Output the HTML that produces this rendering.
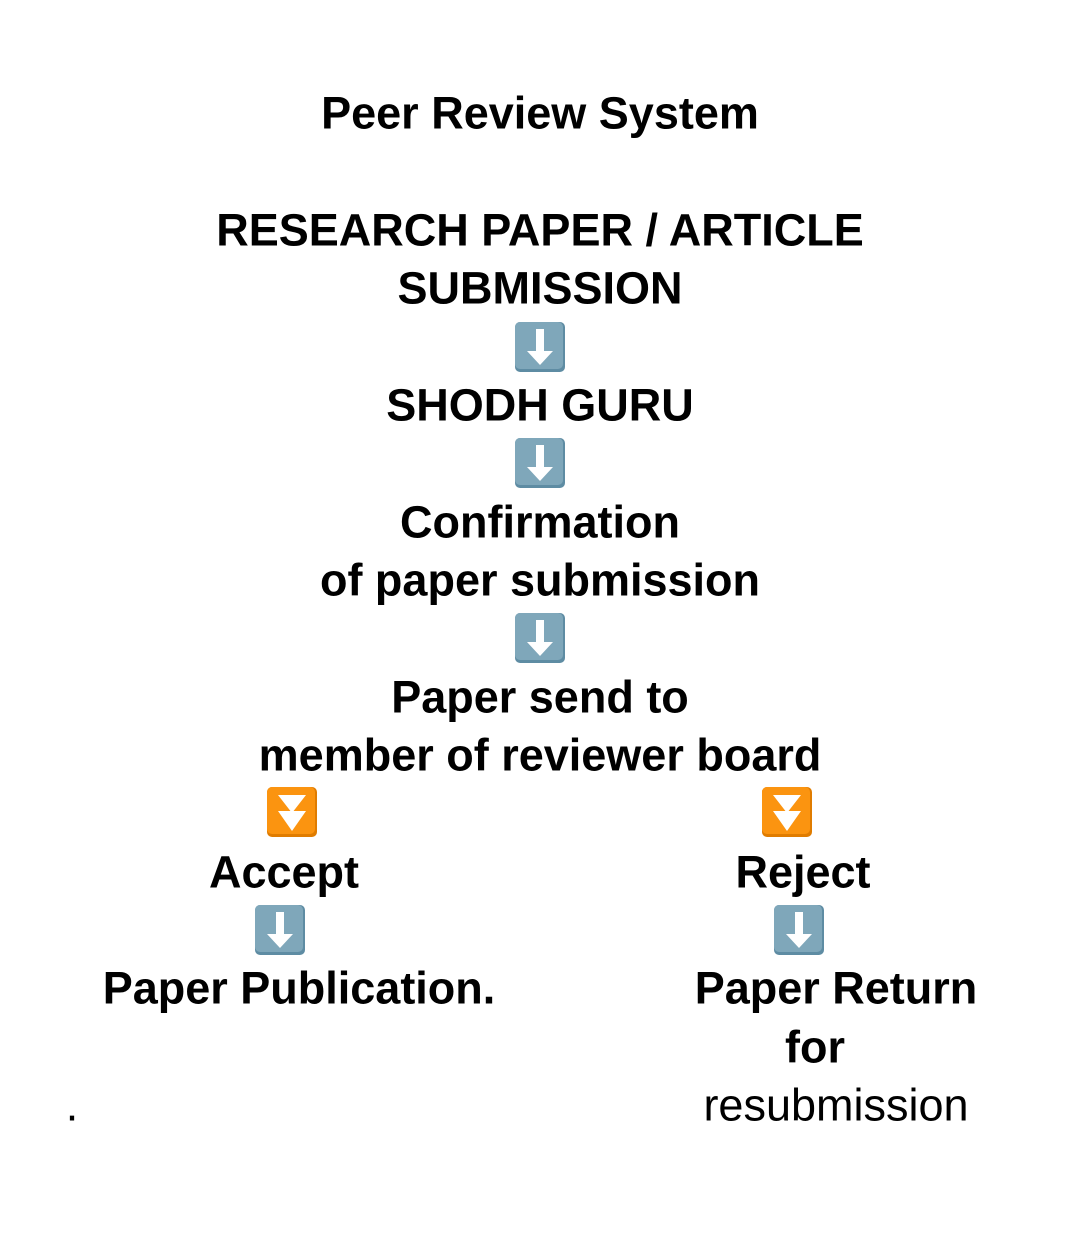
<!DOCTYPE html>
<html><head><meta charset="utf-8"><style>
html,body{margin:0;padding:0;background:#fff;}
body{width:1079px;height:1247px;position:relative;overflow:hidden;font-family:"Liberation Sans",Arial,sans-serif;color:#000;}
.t{position:absolute;transform:translate(-50%,-50%);white-space:nowrap;font-weight:bold;font-size:45px;line-height:1;}
.i{position:absolute;width:52px;height:52px;transform:translate(-50%,-50%);}
</style></head><body>
<div class="t" style="left:540px;top:113px">Peer Review System</div>
<div class="t" style="left:540px;top:230px">RESEARCH PAPER / ARTICLE</div>
<div class="t" style="left:540px;top:288px">SUBMISSION</div>
<svg class="i" style="left:540px;top:347px" viewBox="0 0 52 52"><rect x="1" y="1" width="50" height="50" rx="5" fill="#5e8ca3"/><rect x="1" y="1" width="48" height="47" rx="5" fill="#7fa7ba"/><path d="M22 8h8v22h9L26 44 13 30h9z" fill="#fff"/></svg>
<div class="t" style="left:540px;top:405px">SHODH GURU</div>
<svg class="i" style="left:540px;top:463px" viewBox="0 0 52 52"><rect x="1" y="1" width="50" height="50" rx="5" fill="#5e8ca3"/><rect x="1" y="1" width="48" height="47" rx="5" fill="#7fa7ba"/><path d="M22 8h8v22h9L26 44 13 30h9z" fill="#fff"/></svg>
<div class="t" style="left:540px;top:522px">Confirmation</div>
<div class="t" style="left:540px;top:580px">of paper submission</div>
<svg class="i" style="left:540px;top:638px" viewBox="0 0 52 52"><rect x="1" y="1" width="50" height="50" rx="5" fill="#5e8ca3"/><rect x="1" y="1" width="48" height="47" rx="5" fill="#7fa7ba"/><path d="M22 8h8v22h9L26 44 13 30h9z" fill="#fff"/></svg>
<div class="t" style="left:540px;top:697px">Paper send to</div>
<div class="t" style="left:540px;top:755px">member of reviewer board</div>
<svg class="i" style="left:292px;top:812px" viewBox="0 0 52 52"><rect x="1" y="1" width="50" height="50" rx="5" fill="#e07c00"/><rect x="1" y="1" width="48" height="47" rx="5" fill="#fb9410"/><path d="M12 9h28L26 27zM12 25h28L26 45z" fill="#fff"/></svg>
<svg class="i" style="left:787px;top:812px" viewBox="0 0 52 52"><rect x="1" y="1" width="50" height="50" rx="5" fill="#e07c00"/><rect x="1" y="1" width="48" height="47" rx="5" fill="#fb9410"/><path d="M12 9h28L26 27zM12 25h28L26 45z" fill="#fff"/></svg>
<div class="t" style="left:284px;top:872px">Accept</div>
<div class="t" style="left:803px;top:872px">Reject</div>
<svg class="i" style="left:280px;top:930px" viewBox="0 0 52 52"><rect x="1" y="1" width="50" height="50" rx="5" fill="#5e8ca3"/><rect x="1" y="1" width="48" height="47" rx="5" fill="#7fa7ba"/><path d="M22 8h8v22h9L26 44 13 30h9z" fill="#fff"/></svg>
<svg class="i" style="left:799px;top:930px" viewBox="0 0 52 52"><rect x="1" y="1" width="50" height="50" rx="5" fill="#5e8ca3"/><rect x="1" y="1" width="48" height="47" rx="5" fill="#7fa7ba"/><path d="M22 8h8v22h9L26 44 13 30h9z" fill="#fff"/></svg>
<div class="t" style="left:299px;top:988px">Paper Publication.</div>
<div class="t" style="left:836px;top:988px">Paper Return</div>
<div class="t" style="left:815px;top:1047px">for</div>
<div class="t" style="left:836px;top:1105px;font-weight:normal">resubmission</div>
<div class="t" style="left:72px;top:1105px;font-weight:normal">.</div>
</body></html>
